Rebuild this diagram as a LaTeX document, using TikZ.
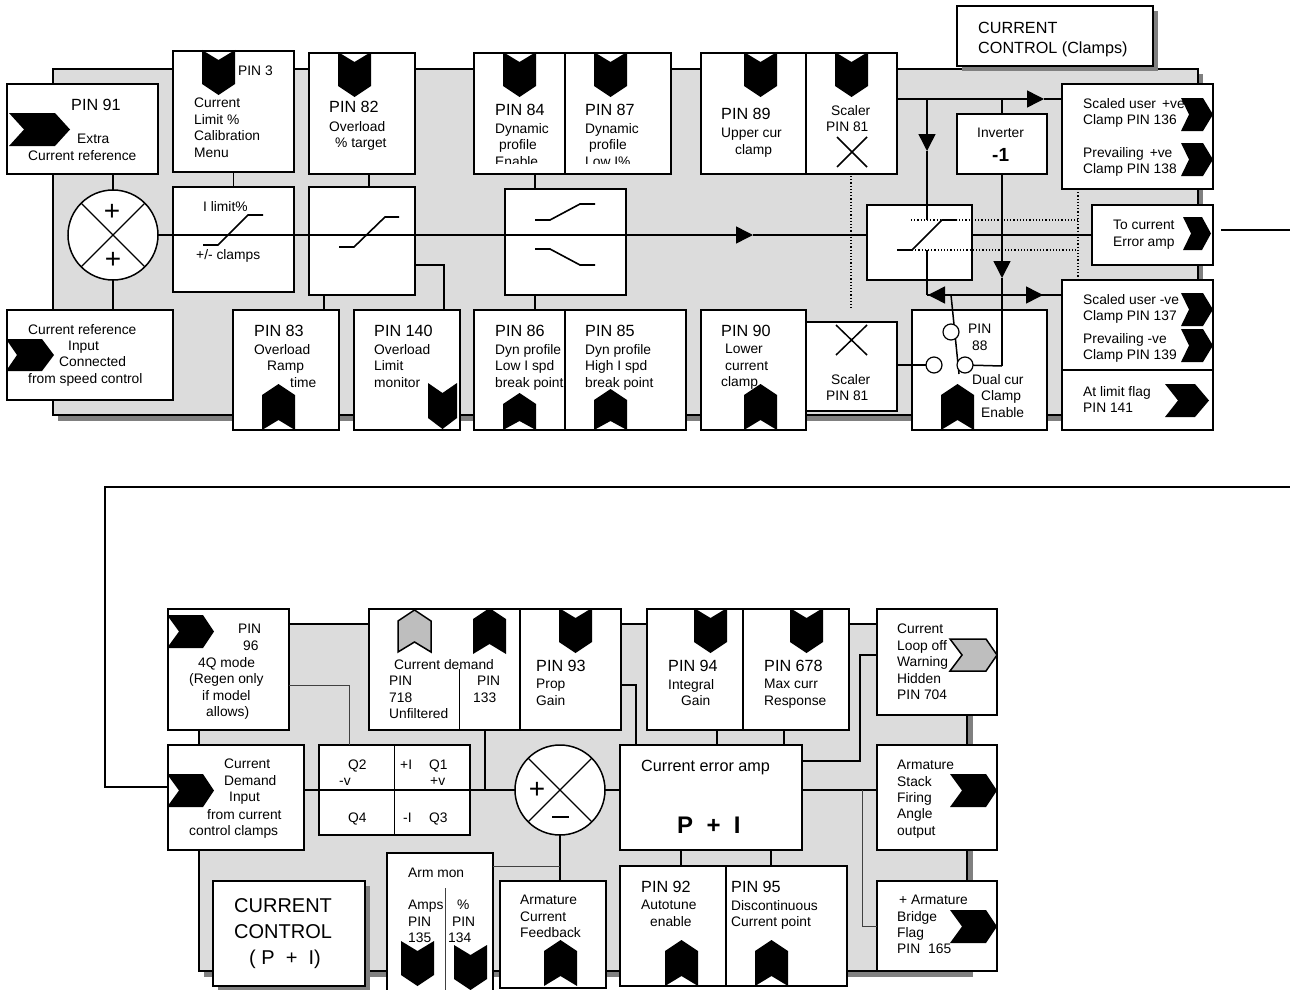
\documentclass[tikz,border=0pt]{standalone}
\usepackage{fontspec}
\setmainfont{Liberation Sans}
\usetikzlibrary{arrows.meta, calc}
\definecolor{panelgray}{RGB}{220,220,220}
\definecolor{shadowgray}{RGB}{128,128,128}
\definecolor{hiddengray}{RGB}{190,190,190}
\tikzset{
    pics/chevr/.style n args={4}{code={\path[pic actions] (0,0) -- (#3,#2/2) -- (0,#2) -- (#1-#4,#2) -- (#1,#2/2) -- (#1-#4,0) -- cycle;}},
    pics/chevdn/.style n args={4}{code={\path[pic actions] (0,0) -- (#1/2,#3) -- (#1,0) -- (#1,#2-#4) -- (#1/2,#2) -- (0,#2-#4) -- cycle;}},
    pics/chevup/.style n args={4}{code={\path[pic actions] (0,#2) -- (#1/2,#2-#3) -- (#1,#2) -- (#1,#4) -- (#1/2,0) -- (0,#4) -- cycle;}}
}
\begin{document}
\begin{tikzpicture}[x=1pt, y=-1pt,
        box/.style={draw, fill=white, line width=1.5pt, inner sep=0pt, outer sep=0pt, anchor=north west},
        sumnode/.style={draw, fill=white, circle, line width=1.5pt, minimum size=90pt, inner sep=0pt, outer sep=0pt},
        swnode/.style={draw, fill=white, circle, line width=1.2pt, minimum size=16pt, inner sep=0pt, outer sep=0pt},
        wire/.style={line width=1.5pt},
        thinwire/.style={line width=1pt, black!75},
        dotwire/.style={line width=1.2pt, dotted},
        tip/.style={-{Triangle[length=17pt,width=17pt]}},
        chev/.style={fill=black},
        chevgray/.style={fill=hiddengray, draw=black, line width=1.5pt},
        small/.style={font=\fontsize{13.8}{16.4}\selectfont, inner sep=0pt, anchor=north west, align=left, yshift=12pt, execute at begin node={\rule{0pt}{12pt}}},
        big/.style={font=\fontsize{16.2}{20}\selectfont, inner sep=0pt, anchor=north west, align=left, yshift=14pt, execute at begin node={\rule{0pt}{14pt}}},
        ml/.style={small, yshift=-3pt}]
        \useasboundingbox (0,0) rectangle (1290,990);
        % Hintergrund
        \fill[shadowgray] (58,74) rectangle (1203,421);
        \draw[fill=panelgray, line width=1.5pt] (53,69) rectangle (1198,415);
        \fill[shadowgray] (204,629) rectangle (973,977);
        \draw[fill=panelgray, line width=1.5pt] (199,624) rectangle (967,971);
        \fill[shadowgray] (962,11) rectangle (1158,71);
        \fill[shadowgray] (218,886) rectangle (370,991);
        % Kaesten
        \foreach \name/\xa/\ya/\w/\h in {
            pinA/7/84/151/90, pinB/173/51/121/121, pinC/309/53/106/121,
            limB/173/187/121/105, limC/309/187/106/108,
            refin/7/310/166/90, pinD/233/310/106/120, pinE/354/310/106/120,
            pinF/474/53/91/121, pinG/565/53/106/121, pinH/701/53/105/121, scalerT/806/53/91/121,
            dyn/505/189/121/106, pinJ/474/310/91/120, pinK/565/310/121/120,
            pinL/701/310/105/120, scalerL/806/322/91/89,
            title/957/6/196/60, scaledP/1062/84/151/105, inverter/957/114/90/60,
            toamp/1092/205/121/60, clamp/867/205/105/75, scaledN/1062/280/151/90,
            flag/1062/370/151/60, dual/912/310/135/120,
            pinM/168/609/121/121, demin/168/745/136/105, qbox/319/745/151/90,
            demand/369/609/151/121, pinN/520/609/101/121, ctitle/213/881/152/105,
            armmon/387/853/106/150, armfb/500/881/106/107,
            pinP/647/609/96/121, pinQ/743/609/106/121, amp/620/745/182/105,
            pinR/620/866/106/120, pinS/726/866/121/120,
            loopoff/877/609/120/106, stack/877/745/120/105, bridge/877/881/120/90}
            \node[box, minimum width=\w pt, minimum height=\h pt] (\name) at (\xa,\ya) {};
        \node[sumnode] (sumA) at (113,235) {};
        \node[sumnode] (sumB) at (560,790) {};
        % Hilfspunkte
        \coordinate (arMain) at (753,235);
        \coordinate (arTop) at (1044,99);
        \coordinate (jInv) at (1002,99);
        \coordinate (jClamp) at (927,99);
        \coordinate (arClamp) at (927,151);
        \coordinate (arInv) at (1002,278);
        \coordinate (jSw) at (1002,366);
        \coordinate (jLow) at (927,295);
        \coordinate (arLow) at (1043,295);
        \coordinate (arBack) at (928,295);
        \coordinate (jPole) at (951,295);
        \coordinate (jPoleB) at (959,374);
        \coordinate (outA) at (1221,230);
        \coordinate (outB) at (1290,230);
        \coordinate (backA) at (1290,487);
        \coordinate (backB) at (105,487);
        \coordinate (jLoop) at (860,655);
        \coordinate (jBridge) at (862,790);
        \coordinate (jArm) at (560,866);
        \coordinate (jMon) at (445,888);
        % Verbindungen oben
        \draw[wire] (pinA.south -| sumA) -- (sumA.north);
        \draw[wire] (sumA.south) -- (sumA.south |- refin.north);
        \draw[wire] (pinB.south) -- (limB.north);
        \draw[wire] ([xshift=7pt]pinC.south) -- ([xshift=7pt]limC.north);
        \draw[wire] ([xshift=-38pt]limC.south) -- ([xshift=38pt]pinD.north);
        \draw[wire] ([yshift=-24pt]limC.east) -| ([xshift=37pt]pinE.north);
        \draw[wire] ([xshift=15.5pt]pinF.south) -- ([xshift=-30.5pt]dyn.north);
        \draw[wire] ([xshift=-30.5pt]dyn.south) -- ([xshift=15.5pt]pinJ.north);
        \draw[wire, tip] (sumA.east) -- (arMain);
        \draw[wire] (arMain) -- (clamp.west |- arMain);
        \draw[wire] (clamp.east |- arMain) -- (toamp.west |- arMain);
        \draw[wire, tip] (scalerT.east |- arTop) -- (arTop);
        \draw[wire] (arTop) -- (scaledP.west |- arTop);
        \draw[wire] (jInv) -- (inverter.north -| jInv);
        \draw[wire, tip] (jClamp) -- (arClamp);
        \draw[wire] (arClamp) -- (clamp.north -| arClamp);
        \draw[wire] (clamp.north -| arClamp) -- ++(0,15);
        \draw[wire] (927,250) -- (jLow);
        \draw[wire, tip] (inverter.south -| arInv) -- (arInv);
        \draw[wire] (arInv) -- (jSw);
        \draw[wire, tip] (scaledN.west |- jLow) -- (arBack);
        \draw[wire] (jLow) -- (arBack);
        \draw[wire, tip] (jLow) -- (arLow);
        \draw[wire] (arLow) -- (scaledN.west |- jLow);
        \draw[wire] (outA) -- (outB);
        \draw[dotwire] (851,176) -- (851,310);
        \draw[dotwire] (1078,189) -- (1078,280);
        \draw[dotwire] (911,220) -- (1078,220);
        \draw[dotwire] (912,250) -- (1078,250);
        % Schalter
        \draw[wire] (jPole) -- (jPoleB);
        \node[swnode] (swA) at (951,332) {};
        \node[swnode] (swB) at (934,365) {};
        \node[swnode] (swC) at (965,365) {};
        \draw[wire] (scalerL.east |- swB) -- (swB);
        \draw[wire] (swC) -- (jSw);
        % Kennlinien
        \draw[line width=1.6pt] (203,245) -- (218,245) -- (248,215) -- (263,215);
        \draw[line width=1.6pt] (339,247) -- (354,247) -- (385,217) -- (399,217);
        \draw[line width=1.6pt] (535,220) -- (550,220) -- (580,204) -- (595,204);
        \draw[line width=1.6pt] (535,249) -- (550,249) -- (580,265) -- (595,265);
        \draw[line width=1.6pt] (897,250) -- (912,250) -- (942,220) -- (957,220);
        \draw[line width=1.5pt] (837,137) -- (867,167) (837,167) -- (867,137);
        \draw[line width=1.5pt] (836,325) -- (867,355) (836,355) -- (867,325);
        % Verbindungen unten
        \draw[wire] (backA) -- (backB) |- ([yshift=10.5pt]demin.west);
        \draw[wire] (demin.east |- sumB) -- (sumB.west);
        \draw[wire] (qbox.north) -- (qbox.south);
        \draw[thinwire] ([yshift=-15.5pt]pinM.east) -| ([xshift=-45.5pt]qbox.north);
        \draw[wire] ([xshift=40.5pt]demand.south) -- ([xshift=40.5pt]demand.south |- sumB);
        \draw[line width=1pt] ([xshift=14.5pt]demand.south) -- ++(0,-61);
        \draw[wire] ([yshift=-15.5pt]pinN.east) -| ([xshift=-75pt]amp.north);
        \draw[wire] ([xshift=22pt]pinP.south) -- ([xshift=6pt]amp.north);
        \draw[wire] ([xshift=-12pt]pinQ.south) -- ([xshift=73pt]amp.north);
        \draw[wire] ([yshift=36.5pt]amp.east) -| (jLoop) -- ([yshift=7pt]loopoff.west);
        \draw[wire] (amp.east |- sumB) -- (stack.west |- sumB);
        \draw[thinwire] (jBridge) |- (bridge.west);
        \draw[wire] (sumB.east) -- (sumB.east -| amp.west);
        \draw[wire] (sumB.south) -- (sumB.south |- armfb.north);
        \draw[thinwire] (armmon.east |- jArm) -- (jArm);
        \draw[wire] ([xshift=8pt]pinR.north) -- ([xshift=8pt]pinR.north |- amp.south);
        \draw[wire] ([xshift=-15.5pt]pinS.north) -- ([xshift=-15.5pt]pinS.north |- amp.south);
        \draw[thinwire] ([xshift=5pt]armmon.south) -- (jMon);
        % Summierer
        \draw[line width=1.3pt] (sumA.north west) -- (sumA.south east) (sumA.north east) -- (sumA.south west);
        \draw[line width=1.3pt] (sumB.north west) -- (sumB.south east) (sumB.north east) -- (sumB.south west);
        \node[font=\fontsize{28}{28}\selectfont, inner sep=0pt] (plusA) at (112,212) {+};
        \node[font=\fontsize{28}{28}\selectfont, inner sep=0pt] (plusB) at (113,260) {+};
        \node[font=\fontsize{28}{28}\selectfont, inner sep=0pt] (plusC) at (537,790) {+};
        \draw[line width=1.3pt] (552,817) -- (569,817);
        % Pfeilsymbole
        \foreach \x/\y in {202/50, 338/52, 503/52, 594/52, 744/52, 835/52, 559/608, 694/608, 790/608, 401/941, 454/945}
            \pic[chev] at (\x,\y) {chevdn={33}{45}{10}{11}};
        \pic[chev] at (428,383) {chevdn={29}{46}{10}{11}};
        \foreach \x/\y in {262/384, 744/384, 941/384, 473/608, 544/940, 665/940, 755/940}
            \pic[chev] at (\x,\y) {chevup={33}{46}{10}{11}};
        \pic[chev] at (503,393) {chevup={33}{37}{9}{11}};
        \pic[chev] at (594,389) {chevup={33}{41}{9}{11}};
        \pic[chevgray] at (398,610) {chevup={33}{42}{10}{11}};
        \pic[chev] at (9,113) {chevr={61}{33}{15}{15}};
        \pic[chev] at (6,339) {chevr={48}{32}{11}{12}};
        \foreach \x/\y in {1181/98, 1181/143, 1181/293, 1181/329}
            \pic[chev] at (\x,\y) {chevr={32}{33}{8}{10}};
        \pic[chev] at (1183,217) {chevr={28}{33}{8}{9}};
        \pic[chev] at (1165,384) {chevr={44}{33}{13}{14}};
        \foreach \x/\y in {167/615, 167/774, 950/774, 950/910}
            \pic[chev] at (\x,\y) {chevr={47}{33}{12}{11}};
        \pic[chevgray] at (950,639) {chevr={47}{32}{12}{11}};
        % Texte oben
        \node[big] (t91) at (71,110) {PIN 91};
        \node[ml] (t91b) at (28,143) {\hspace*{49pt}Extra\\Current reference};
        \node[small] (t3) at (238,75) {PIN 3};
        \node[ml] (t3b) at (194,107) {Current\\Limit \%\\Calibration\\Menu};
        \node[big] (t82) at (329,112) {PIN 82};
        \node[ml] (t82b) at (329,130) {Overload\\\hspace*{6pt}\% target};
        \node[small] (tlimA) at (203,211) {I limit\%};
        \node[small] (tlimB) at (196,259) {+/- clamps};
        \node[ml] (tref) at (28,333) {Current reference\\\hspace*{40pt}Input\\\hspace*{31pt}Connected\\from speed control};
        \node[big] (t83) at (254,336) {PIN 83};
        \node[ml] (t83b) at (254,353) {Overload\\\hspace*{13pt}Ramp\\\hspace*{36pt}time};
        \node[big] (t140) at (374,336) {PIN 140};
        \node[ml] (t140b) at (374,353) {Overload\\Limit\\monitor};
        \begin{scope}
            \clip (470,40) rectangle (690,163.5);
            \node[ml] (t84b) at (495,132) {Dynamic\\\hspace*{4pt}profile\\Enable};
            \node[ml] (t87b) at (585,132) {Dynamic\\\hspace*{4pt}profile\\Low I\%};
        \end{scope}
        \node[big] (t84) at (495,115) {PIN 84};
        \node[big] (t87) at (585,115) {PIN 87};
        \node[big] (t89) at (721,119) {PIN 89};
        \node[ml] (t89b) at (721,137) {Upper cur\\\hspace*{14pt}clamp};
        \node[ml] (t81) at (826,114) {\hspace*{5pt}Scaler\\PIN 81};
        \node[big] (t86) at (495,336) {PIN 86};
        \node[ml] (t86b) at (495,353) {Dyn profile\\Low I spd\\break point};
        \node[big] (t85) at (585,336) {PIN 85};
        \node[ml] (t85b) at (585,353) {Dyn profile\\High I spd\\break point};
        \node[big] (t90) at (721,336) {PIN 90};
        \node[ml] (t90b) at (721,353) {\hspace*{4pt}Lower\\\hspace*{4pt}current\\clamp};
        \node[ml] (t81b) at (826,383) {\hspace*{5pt}Scaler\\PIN 81};
        \node[big, yshift=-4pt] (ttitle) at (978,32) {CURRENT\\CONTROL (Clamps)};
        \node[ml] (t136) at (1083,107) {Scaled user\hspace*{6pt}+ve\\Clamp PIN 136};
        \node[ml] (t138) at (1083,156) {Prevailing\hspace*{6pt}+ve\\Clamp PIN 138};
        \node[small] (tinv) at (977,137) {Inverter};
        \node[font=\bfseries\fontsize{19}{19}\selectfont, inner sep=0pt, anchor=base west] (tminus) at (992,161) {-1};
        \node[ml] (tamp) at (1113,229) {To current\\Error amp};
        \node[ml] (t137) at (1083,303) {Scaled user -ve\\Clamp PIN 137};
        \node[ml] (t139) at (1083,342) {Prevailing -ve\\Clamp PIN 139};
        \node[ml] (t141) at (1083,395) {At limit flag\\PIN 141};
        \node[ml] (t88) at (968,333) {PIN\\\hspace*{4pt}88};
        \node[ml] (tdual) at (972,383) {Dual cur\\\hspace*{9pt}Clamp\\\hspace*{9pt}Enable};
        % Texte unten
        \node[ml] (t96) at (238,633) {PIN\\\hspace*{5pt}96};
        \node[ml] (t96b) at (189,666) {\hspace*{9pt}4Q mode\\(Regen only\\\hspace*{13pt}if model\\\hspace*{17pt}allows)};
        \node[ml] (tdem) at (224,768) {Current\\Demand\\\hspace*{5pt}Input};
        \node[ml] (tdemb) at (189,818) {\hspace*{18pt}from current\\control clamps};
        \node[small] (tqa) at (348,769) {Q2};
        \node[small] (tqb) at (339,785) {-v};
        \node[small] (tqc) at (400,769) {+I};
        \node[small] (tqd) at (429,769) {Q1};
        \node[small] (tqe) at (430,785) {+v};
        \node[small] (tqf) at (348,822) {Q4};
        \node[small] (tqg) at (403,822) {-I};
        \node[small] (tqh) at (429,822) {Q3};
        \node[small] (tcur) at (394,669) {Current demand};
        \node[ml] (t718) at (389,685) {PIN\\718\\Unfiltered};
        \node[ml] (t133) at (473,685) {\hspace*{4pt}PIN\\133};
        \node[big] (t93) at (536,671) {PIN 93};
        \node[ml] (t93b) at (536,688) {Prop\\Gain};
        \node[big] (t94) at (668,671) {PIN 94};
        \node[ml] (t94b) at (668,688) {Integral\\\hspace*{13pt}Gain};
        \node[big] (t678) at (764,671) {PIN 678};
        \node[ml] (t678b) at (764,688) {Max curr\\Response};
        \node[big] (tamperr) at (641,771) {Current error amp};
        \node[font=\bfseries\fontsize{24}{24}\selectfont, inner sep=0pt, anchor=base west] (tpi) at (677,833) {P\ \ +\ \ I};
        \node[big] (t92) at (641,892) {PIN 92};
        \node[ml] (t92b) at (641,909) {Autotune\\\hspace*{9pt}enable};
        \node[big] (t95) at (731,892) {PIN 95};
        \node[ml] (t95b) at (731,909) {Discontinuous\\Current point};
        \node[ml] (t704) at (897,633) {Current\\Loop off\\Warning\\Hidden\\PIN 704};
        \node[ml] (tstack) at (897,769) {Armature\\Stack\\Firing\\Angle\\output};
        \node[ml] (t165) at (897,904) {\hspace*{2pt}+ Armature\\Bridge\\Flag\\PIN\hspace*{8pt}165};
        \node[font=\fontsize{20}{26}\selectfont, inner sep=0pt, anchor=north west, align=left, yshift=14pt, execute at begin node={\rule{0pt}{16pt}}] (tctitle) at (234,912) {CURRENT\\CONTROL\\\hspace*{15pt}( P\ \ +\ \ I)};
        \node[small] (tarm) at (408,877) {Arm mon};
        \node[ml] (t135) at (408,909) {Amps\\PIN\\135};
        \node[ml] (t134) at (448,909) {\hspace*{9pt}\%\\\hspace*{4pt}PIN\\134};
        \node[ml] (tfb) at (520,904) {Armature\\Current\\Feedback};
    \end{tikzpicture}
\end{document}
